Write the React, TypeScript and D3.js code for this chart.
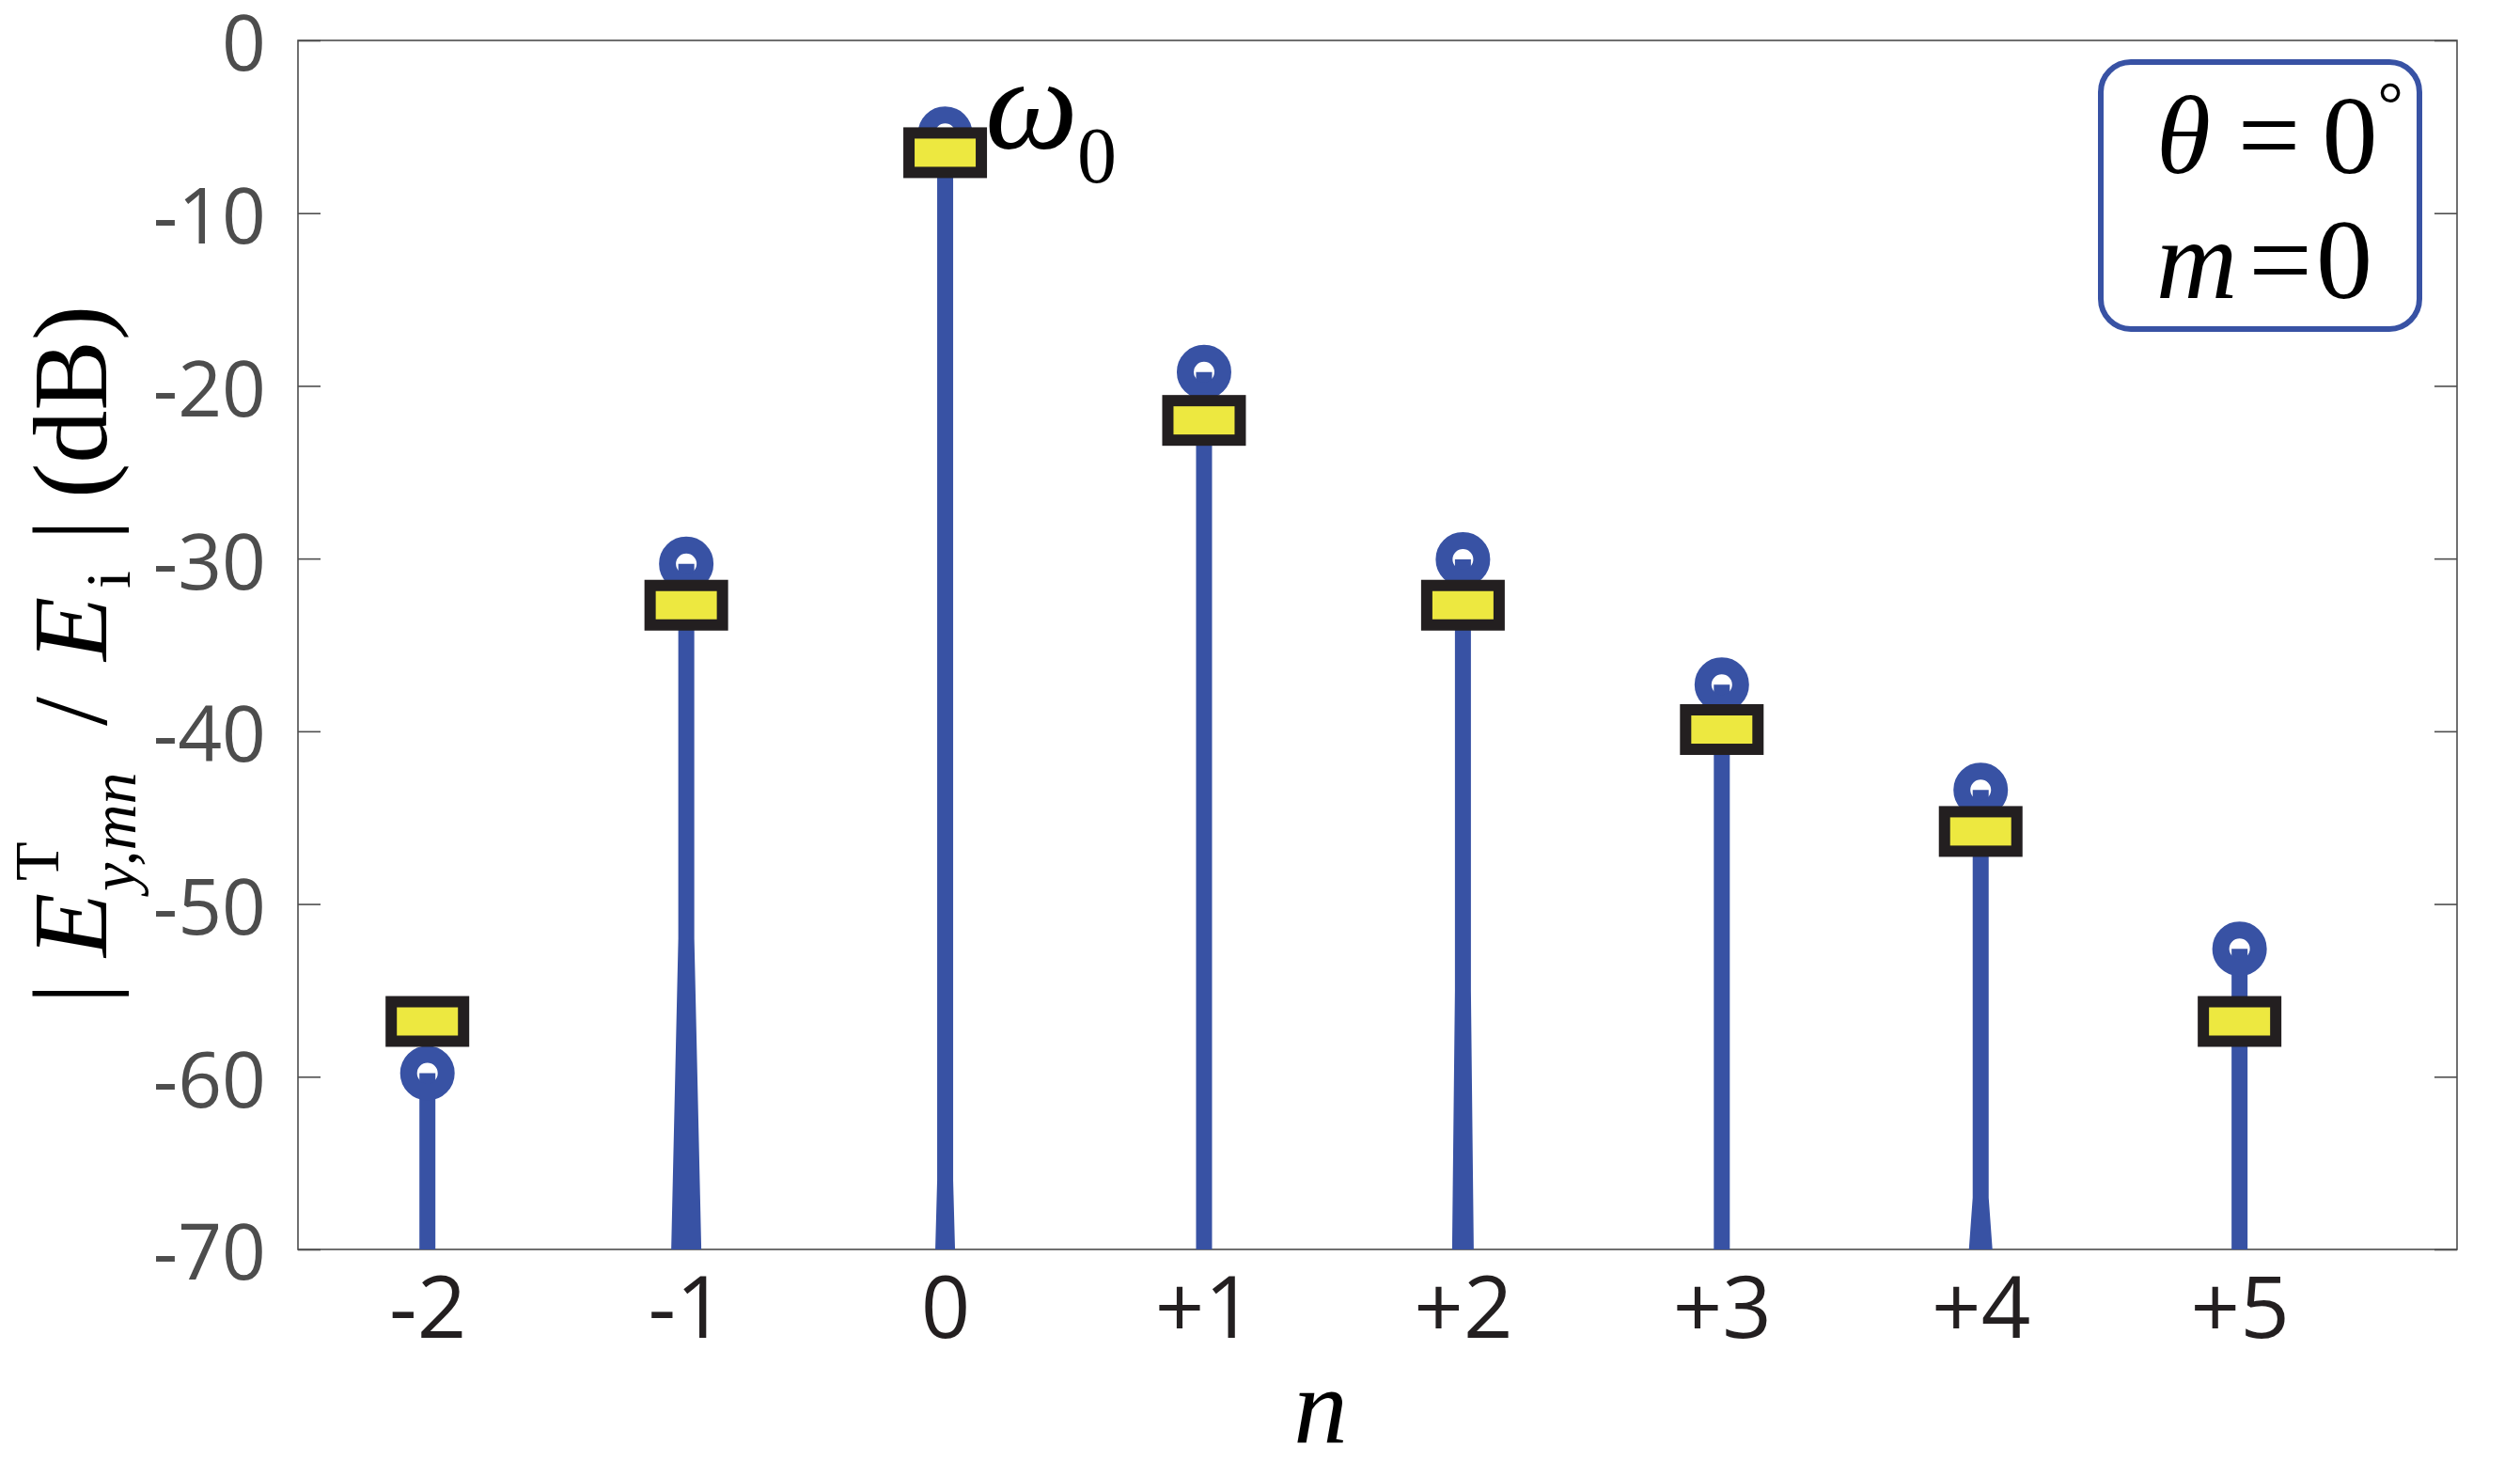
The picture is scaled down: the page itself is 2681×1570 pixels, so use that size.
import React, { useEffect, useRef } from "react";
import * as d3 from "d3";

// ---------------- data ----------------
const harmonicOrders = [-2, -1, 0, 1, 2, 3, 4, 5];
const xTickLabels = ["-2", "-1", "0", "+1", "+2", "+3", "+4", "+5"];
const circleSeries = [-59.8, -30.3, -5.4, -19.2, -30.05, -37.3, -43.4, -52.6];
const squareSeries = [-56.8, -32.7, -6.5, -22.0, -32.7, -39.9, -45.8, -56.8];
const yTickValues = [0, -10, -20, -30, -40, -50, -60, -70];

// ---------------- layout / style ----------------
const W = 2681;
const H = 1570;
const PLOT = { left: 317, right: 2614, top: 43, bottom: 1329 };
const BLUE = "#3852A4";
const YELLOW = "#EDE840";
const BLACK = "#231F20";
const AXIS_GRAY = "#4D4D4D";
const SANS = "'Open Sans', 'Noto Sans', sans-serif";
const SERIF = "'Liberation Serif', 'Times New Roman', serif";
const STEM_W = 17;

// rendering artefact: a slight flare near the base of some stems (style only)
const stemFlare: Record<string, { from: number; extra: number }> = {
  "-1": { from: -52, extra: 15 },
  "0": { from: -66, extra: 4 },
  "2": { from: -55, extra: 6 },
  "4": { from: -67, extra: 8 },
};

export default function App() {
  const ref = useRef<SVGSVGElement | null>(null);

  useEffect(() => {
    const svg = d3.select(ref.current);
    svg.selectAll("*").remove();

    const x = d3.scaleLinear().domain([-2.5, 5.84]).range([PLOT.left, PLOT.right]);
    const y = d3.scaleLinear().domain([-70, 0]).range([PLOT.bottom, PLOT.top]);

    // plot frame
    svg
      .append("rect")
      .attr("x", PLOT.left)
      .attr("y", PLOT.top)
      .attr("width", PLOT.right - PLOT.left)
      .attr("height", PLOT.bottom - PLOT.top)
      .attr("fill", "none")
      .attr("stroke", AXIS_GRAY)
      .attr("stroke-width", 1.6);

    // left axis
    const gl = svg
      .append("g")
      .attr("transform", `translate(${PLOT.left},0)`)
      .call(
        d3
          .axisLeft(y)
          .tickValues(yTickValues)
          .tickSizeInner(-24)
          .tickSizeOuter(0)
          .tickPadding(34)
          .tickFormat((d) => `${d}`)
      );
    gl.select(".domain").remove();
    gl.selectAll("line").attr("stroke", AXIS_GRAY).attr("stroke-width", 1.6);
    gl.selectAll("text")
      .attr("fill", AXIS_GRAY)
      .attr("font-family", SANS)
      .attr("font-size", 82)
      .attr("dy", "0.39em");

    // right axis (ticks only)
    const gr = svg
      .append("g")
      .attr("transform", `translate(${PLOT.right},0)`)
      .call(
        d3
          .axisRight(y)
          .tickValues(yTickValues)
          .tickSizeInner(-24)
          .tickSizeOuter(0)
          .tickFormat(() => "")
      );
    gr.select(".domain").remove();
    gr.selectAll("line").attr("stroke", AXIS_GRAY).attr("stroke-width", 1.6);

    // bottom axis labels
    const gb = svg
      .append("g")
      .attr("transform", `translate(0,${PLOT.bottom})`)
      .call(
        d3
          .axisBottom(x)
          .tickValues(harmonicOrders)
          .tickSize(0)
          .tickFormat((d, i) => xTickLabels[i])
      );
    gb.select(".domain").remove();
    gb.selectAll("line").remove();
    gb.selectAll("text")
      .attr("fill", BLACK)
      .attr("font-family", SANS)
      .attr("font-size", 92)
      .attr("y", 94)
      .attr("dy", null);

    // stems
    const stems = svg.append("g");
    harmonicOrders.forEach((n, i) => {
      const cx = x(n);
      const top = y(circleSeries[i]);
      const base = y(-70);
      const h = STEM_W / 2;
      const fl = stemFlare[String(n)];
      let pts: [number, number][];
      if (fl) {
        const yf = y(fl.from);
        const e = fl.extra / 2;
        pts = [
          [cx - h, top],
          [cx + h, top],
          [cx + h, yf],
          [cx + h + e, base],
          [cx - h - e, base],
          [cx - h, yf],
        ];
      } else {
        pts = [
          [cx - h, top],
          [cx + h, top],
          [cx + h, base],
          [cx - h, base],
        ];
      }
      stems
        .append("path")
        .attr("d", d3.line()(pts) + "Z")
        .attr("fill", BLUE);
    });

    // circle markers
    svg
      .append("g")
      .selectAll("circle")
      .data(harmonicOrders)
      .join("circle")
      .attr("cx", (d) => x(d))
      .attr("cy", (d, i) => y(circleSeries[i]))
      .attr("r", 20)
      .attr("fill", "none")
      .attr("stroke", BLUE)
      .attr("stroke-width", 18);

    // rectangle markers
    svg
      .append("g")
      .selectAll("rect")
      .data(harmonicOrders)
      .join("rect")
      .attr("x", (d) => x(d) - 38.5)
      .attr("y", (d, i) => y(squareSeries[i]) - 21)
      .attr("width", 77)
      .attr("height", 42)
      .attr("fill", YELLOW)
      .attr("stroke", BLACK)
      .attr("stroke-width", 12);

    // omega_0 annotation
    const om = svg.append("text").attr("font-family", SERIF).attr("fill", "#000");
    om.append("tspan")
      .attr("x", 1048)
      .attr("y", 158)
      .attr("font-style", "italic")
      .attr("font-size", 140)
      .text("ω");
    om.append("tspan")
      .attr("x", 1146)
      .attr("y", 194)
      .attr("font-size", 84)
      .text("0");

    // legend box
    svg
      .append("rect")
      .attr("x", 2235)
      .attr("y", 66)
      .attr("width", 339)
      .attr("height", 284)
      .attr("rx", 32)
      .attr("fill", "#fff")
      .attr("stroke", BLUE)
      .attr("stroke-width", 6);
    const lg = svg.append("g").attr("font-family", SERIF).attr("fill", "#000").attr("text-anchor", "middle");
    const put = (t: string, cx: number, by: number, size: number, italic = false) =>
      lg
        .append("text")
        .attr("x", cx)
        .attr("y", by)
        .attr("font-size", size)
        .attr("font-style", italic ? "italic" : "normal")
        .text(t);
    put("θ", 2323, 184, 118, true);
    put("=", 2414, 184, 118);
    put("0", 2500, 184, 118);
    put("°", 2543, 134, 68);
    put("m", 2337, 317, 120, true);
    put("=", 2426, 317, 120);
    put("0", 2494, 317, 120);

    // x axis title
    svg
      .append("text")
      .attr("x", 1405)
      .attr("y", 1535)
      .attr("text-anchor", "middle")
      .attr("font-family", SERIF)
      .attr("font-style", "italic")
      .attr("font-size", 115)
      .text("n");

    // y axis title (rotated)
    const yl = svg
      .append("g")
      .attr("transform", "translate(113,1100) rotate(-90)")
      .attr("font-family", SERIF)
      .attr("fill", "#000");
    const piece = (t: string, xs: number, ys: number, size: number, italic = false) =>
      yl
        .append("text")
        .attr("x", xs)
        .attr("y", ys)
        .attr("font-size", size)
        .attr("font-style", italic ? "italic" : "normal")
        .text(t);
    piece("|", 32, 0, 112);
    piece("E", 82, 0, 112, true);
    piece("T", 163, -51, 68);
    piece("y,mn", 152, 31, 68, true);
    piece("/", 328, 0, 112);
    piece("E", 397, 0, 112, true);
    piece("i", 474, 25, 68);
    piece("|", 525, 0, 112);
    piece("(dB)", 570, 0, 112);
  }, []);

  return (
    <svg
      ref={ref}
      width={W}
      height={H}
      style={{ position: "absolute", left: 0, top: 0, background: "#fff" }}
    />
  );
}
